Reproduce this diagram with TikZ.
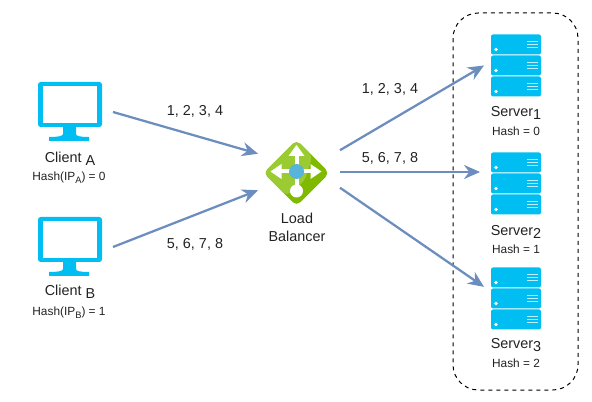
\documentclass[tikz,border=0pt]{standalone}
\usepackage{fontspec}
\setmainfont{Liberation Sans}
\usepackage{xcolor}
\usetikzlibrary{arrows.meta}
\definecolor{iconblue}{HTML}{00BEF2}
\definecolor{linkblue}{HTML}{6C8EBF}
\definecolor{lbgreen}{HTML}{7FBA00}
\definecolor{lblight}{HTML}{9BCB32}
\definecolor{lbcore}{HTML}{59B4D9}
\definecolor{txtgray}{HTML}{222222}
\newcommand{\lowtxt}[1]{\raisebox{-2.4pt}{#1}}
\tikzset{
 link/.style={-{Stealth[length=12pt,width=10.5pt]},linkblue,line width=1.7pt},
 port/.style={inner sep=0pt,outer sep=0pt},
 bigtxt/.style={font=\fontsize{10.8pt}{13.5pt}\selectfont,text=txtgray,align=center},
 smalltxt/.style={font=\fontsize{8.9pt}{10pt}\selectfont,text=txtgray},
 pics/monitor/.style={code={
  \fill[iconblue,rounded corners=2pt](-32,-30)rectangle(32,15);
  \fill[white](-27,-26)rectangle(27,11);
  \fill[iconblue](-7,15)--(6,15)--(6,22)..controls(6,24)and(10,25)..(19,25)--(19,29)--(-21,29)--(-21,25)..controls(-12,25)and(-7,24)..(-7,22)--cycle;
 }},
 pics/serverunit/.style={code={
  \fill[iconblue,rounded corners=1.5pt](-25,-10)rectangle(25,10);
  \fill[white](-20,5)circle(1.8);
  \draw[white,line width=1.2pt,opacity=.75](11,-3)--(22,-3)(11,0)--(22,0)(11,3)--(22,3);
 }},
 pics/serverstack/.style={code={
  \pic at (0,-21){serverunit};
  \pic at (0,0){serverunit};
  \pic at (0,21){serverunit};
 }},
 pics/balancer/.style={code={
  \fill[lbgreen,rounded corners=4pt](0,-33)--(33,0)--(0,33)--(-33,0)--cycle;
  \fill[lblight,rounded corners=4pt](0,-33)--(-33,0)--(-10,23)--(8,8)--(16,-17)--cycle;
  \draw[white,line width=3pt](-18,-1.5)--(17,-1.5)(0,-19)--(0,14);
  \fill[white](0,-28)--(8,-17)--(-8,-17)--cycle;
  \fill[white](-26,-1.5)--(-15,-9)--(-15,6)--cycle;
  \fill[white](25,-1.5)--(14,-9)--(14,6)--cycle;
  \fill[white](0,18)circle(6.5);
  \fill[lbcore](0,-1.5)circle(7.5);
 }}
}
\begin{document}
\begin{tikzpicture}[=>stealth,x=0.75pt,y=-0.75pt]
\useasboundingbox(0,0)rectangle(592,402);
\draw[dashed,line width=.75pt,rounded corners=19pt](453,13)rectangle(578,390);
\node[port,minimum width=64.5pt,minimum height=45pt](clientA)at(70,112){};
\node[port,minimum width=64.5pt,minimum height=45pt](clientB)at(70,247){};
\node[port,minimum width=61.5pt,minimum height=60pt](lb)at(299,172){};
\node[port,minimum width=48pt,minimum height=48pt](serverOne)at(516,65.5){};
\node[port,minimum width=54pt,minimum height=48pt](serverTwo)at(516,183.5){};
\node[port,minimum width=48pt,minimum height=48pt](serverThree)at(516,298.5){};
\pic at (clientA){monitor};
\pic at (clientB){monitor};
\pic at (296.5,173){balancer};
\pic at (serverOne){serverstack};
\pic at (serverTwo){serverstack};
\pic at (serverThree){serverstack};
\draw[link](clientA.east)--(lb.156);
\draw[link](clientB.east)--(lb.204);
\draw[link](lb.28)--(serverOne.west);
\draw[link](lb.0)--(lb.0-|serverTwo.west);
\draw[link](lb.-21)--(serverThree.160);
\node[bigtxt](clientAtxt)at(70,159){Client \lowtxt{A}};
\node[smalltxt](hashA)at(69,178){Hash(IP\lowtxt{\scriptsize A}) = 0};
\node[bigtxt](clientBtxt)at(70,292){Client \lowtxt{B}};
\node[smalltxt](hashB)at(69,313){Hash(IP\lowtxt{\scriptsize B}) = 1};
\node[bigtxt](lbtxt)at(297,227){Load\\Balancer};
\node[bigtxt](serverOnetxt)at(516,113){Server\lowtxt{1}};
\node[smalltxt](hashOne)at(516,131){Hash = 0};
\node[bigtxt](serverTwotxt)at(516,232){Server\lowtxt{2}};
\node[smalltxt](hashTwo)at(516,249){Hash = 1};
\node[bigtxt](serverThreetxt)at(516,345){Server\lowtxt{3}};
\node[smalltxt](hashThree)at(516,363){Hash = 2};
\node[bigtxt](reqA)at(195,111){1, 2, 3, 4};
\node[bigtxt](reqB)at(195,244){5, 6, 7, 8};
\node[bigtxt](respA)at(390,89){1, 2, 3, 4};
\node[bigtxt](respB)at(390,158){5, 6, 7, 8};
\end{tikzpicture}
\end{document}
